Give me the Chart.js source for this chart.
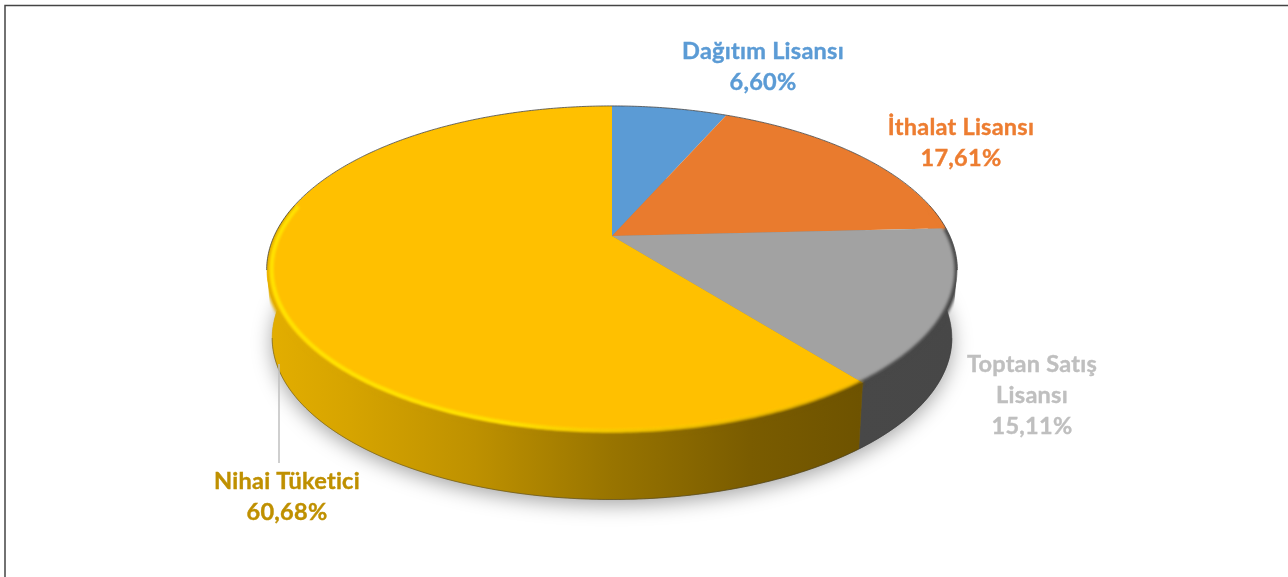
<!DOCTYPE html>
<html><head><meta charset="utf-8">
<style>html,body{margin:0;padding:0;background:#fff}#w{position:relative;width:1288px;height:577px}</style>
<script src="https://cdn.jsdelivr.net/npm/chart.js@4/dist/chart.umd.js"></script>
</head><body><div id="w"><canvas id="c"></canvas></div>
<script>
const categories = ['Dağıtım Lisansı','İthalat Lisansı','Toptan Satış Lisansı','Nihai Tüketici'];
const values = [6.60,17.61,15.11,60.68];
const faceColors = ['#5B9BD5','#E97B2E','#A2A2A2','#FFC000'];
const labelColors = ['#5B9BD5','#ED7D31','#BFBFBF','#BF9000'];
const labelLines = [['Dağıtım Lisansı'],['İthalat Lisansı'],['Toptan Satış','Lisansı'],['Nihai Tüketici']];
const labelPos = [[763,51],[961,127],[1032,364],[287,481]];
const view = {cx:612, cy:236, midY:270, D:337.5, A:108, C:-0.2073, depth:68, shrink:0.985, tangent:0.209};

function project(u,v,s=1,dy=0){
  const d=1+view.C*v;
  const x=view.D*u/d, y=(view.A*v+view.cy)/d;
  return [view.cx+s*x, view.midY+s*(y-view.midY)+dy];
}
function pt(t,r=1,s=1,dy=0){return project(r*Math.cos(t),r*Math.sin(t),s,dy);}
function trace(ctx,t0,t1,r,s,dy,first){
  const n=Math.max(2,Math.ceil(Math.abs(t1-t0)/0.01));
  for(let i=0;i<=n;i++){
    const p=pt(t0+(t1-t0)*i/n,r,s,dy);
    if(i===0&&first)ctx.moveTo(p[0],p[1]);else ctx.lineTo(p[0],p[1]);
  }
}
function wallGrad(ctx,index){
  const g=ctx.createLinearGradient(267,0,957,0);
  if(index===3){
    g.addColorStop(0,'#E3AE00');g.addColorStop(.12,'#D6A400');g.addColorStop(.3,'#BE9100');
    g.addColorStop(.5,'#987400');g.addColorStop(.7,'#7A5C00');g.addColorStop(.86,'#6E5300');g.addColorStop(1,'#664C00');
  }else if(index===2){
    g.addColorStop(0,'#4E4E4E');g.addColorStop(1,'#474747');
  }else{
    g.addColorStop(0,faceColors[index]);g.addColorStop(1,faceColors[index]);
  }
  return g;
}
const pie3d={
  id:'pie3d',
  beforeDatasetsDraw(chart){
    const ctx=chart.ctx, arcs=chart.getDatasetMeta(0).data;
    const tan=view.tangent, front0=-0.2, front1=Math.PI+0.2;
    // frame
    ctx.save();ctx.strokeStyle='#444';ctx.lineWidth=1.5;
    ctx.beginPath();ctx.moveTo(5,577);ctx.lineTo(5,5.5);ctx.lineTo(1288,5.5);ctx.stroke();ctx.restore();
    // ground shadow
    ctx.save();
    ctx.shadowColor='rgba(0,0,0,0.36)';ctx.shadowBlur=20;ctx.shadowOffsetY=5;ctx.fillStyle='#888';
    ctx.beginPath();trace(ctx,0,Math.PI*2,1,view.shrink,view.depth,true);ctx.closePath();ctx.fill();
    ctx.restore();
    const range=(a,f0,f1)=>{
      const out=[];
      for(const k of [0,2*Math.PI,-2*Math.PI]){
        const lo=Math.max(a.startAngle+k,f0),hi=Math.min(a.endAngle+k,f1);
        if(hi>lo)out.push([lo,hi]);
      }
      return out;
    };
    // side walls
    arcs.forEach((a,i)=>{
      for(const [lo,hi] of range(a,front0,front1)){
        ctx.beginPath();trace(ctx,lo,hi,1,1,0,true);trace(ctx,hi,lo,1,view.shrink,view.depth,false);ctx.closePath();
        ctx.fillStyle=wallGrad(ctx,i);ctx.fill();
        ctx.strokeStyle=wallGrad(ctx,i);ctx.lineWidth=.6;ctx.stroke();
      }
    });
    // bottom edge line
    ctx.strokeStyle='rgba(50,50,50,.4)';ctx.lineWidth=1;
    ctx.beginPath();trace(ctx,tan,Math.PI-tan,1,view.shrink,view.depth,true);ctx.stroke();
    // faces
    arcs.forEach((a)=>{
      const o=a.getProps(['startAngle','endAngle'],true);
      ctx.beginPath();const c=project(0,0);ctx.moveTo(c[0],c[1]);
      trace(ctx,o.startAngle,o.endAngle,1,1,0,false);ctx.closePath();
      ctx.fillStyle=a.options.backgroundColor;ctx.fill();
    });
    // rim effects stay inside the silhouette of the disc
    ctx.save();
    ctx.beginPath();
    trace(ctx,Math.PI-tan,2*Math.PI+tan,1,1,0,true);
    trace(ctx,tan,Math.PI-tan,1,view.shrink,view.depth,false);
    ctx.closePath();ctx.clip();
    arcs.forEach((a,i)=>{
      for(const [lo,hi] of range(a,front0,front1)){
        ctx.save();ctx.filter='blur(1.8px)';
        ctx.beginPath();trace(ctx,lo,hi,1.0,1,0,true);
        ctx.strokeStyle=wallGrad(ctx,i);ctx.lineWidth=5;ctx.stroke();ctx.restore();
      }
    });
    // highlight on the yellow rim
    for(const [lo,hi] of range(arcs[3],front0,front1)){
      const g=ctx.createLinearGradient(267,0,860,0);
      g.addColorStop(0,'rgba(255,226,0,1)');g.addColorStop(.4,'rgba(255,226,0,1)');
      g.addColorStop(.6,'rgba(255,214,0,.65)');g.addColorStop(1,'rgba(255,200,0,.35)');
      ctx.save();ctx.filter='blur(1.2px)';ctx.strokeStyle=g;ctx.lineWidth=4;
      ctx.beginPath();trace(ctx,lo,hi,0.987,1,0,true);ctx.stroke();ctx.restore();
    }
    ctx.restore();
    // thin dark outline on the back edge
    ctx.strokeStyle='rgba(60,60,60,.75)';ctx.lineWidth=1;
    ctx.beginPath();trace(ctx,Math.PI-tan,2*Math.PI+tan,1.001,1,0,true);ctx.stroke();
    return false;
  },
  afterDraw(chart){
    const ctx=chart.ctx;
    ctx.save();
    ctx.strokeStyle='#BFBFBF';ctx.lineWidth=1.5;
    ctx.beginPath();ctx.moveTo(279,364);ctx.lineTo(279,463);ctx.stroke();
    ctx.font='bold 23.5px Lato, "Open Sans", sans-serif';ctx.letterSpacing='0.25px';ctx.textAlign='center';ctx.textBaseline='middle';
    ctx.lineWidth=.4;
    categories.forEach((c,i)=>{
      const lines=[...labelLines[i],values[i].toFixed(2).replace('.',',')+'%'];
      ctx.fillStyle=labelColors[i];ctx.strokeStyle=labelColors[i];
      lines.forEach((t,j)=>{const y=labelPos[i][1]+j*31.3;ctx.fillText(t,labelPos[i][0],y);ctx.strokeText(t,labelPos[i][0],y);});
    });
    ctx.restore();
  }
};
new Chart(document.getElementById('c'),{
  type:'pie',
  data:{labels:categories,datasets:[{data:values,backgroundColor:faceColors,borderWidth:0}]},
  options:{responsive:true,maintainAspectRatio:false,animation:false,events:[],
    plugins:{legend:{display:false},tooltip:{enabled:false}}},
  plugins:[pie3d]
});
</script>
</body></html>
